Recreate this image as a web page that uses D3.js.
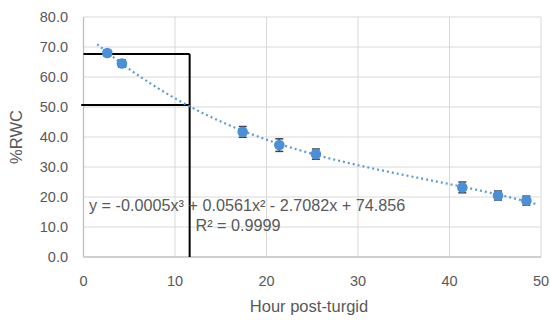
<!DOCTYPE html>
<html>
<head>
<meta charset="utf-8">
<script src="https://cdn.jsdelivr.net/npm/d3@7"></script>
<style>
  body { margin: 0; background: #fff; }
  text { font-family: "Liberation Sans", Arial, sans-serif; fill: #595959; }
</style>
</head>
<body>
<div id="chart"></div>
<script>
// Measured points (hour post-turgid vs %RWC) with error bar half-widths
const hours = [2.6, 4.2, 17.4, 21.4, 25.4, 41.4, 45.3, 48.4];
const rwc = [68.0, 64.5, 41.7, 37.3, 34.3, 23.2, 20.5, 18.8];
const errs = [1.0, 1.2, 1.8, 2.1, 1.7, 1.8, 1.5, 1.5];

// Polynomial trendline coefficients (x^3, x^2, x, constant) and its x range
const trendCoef = [-0.0005, 0.0561, -2.7082, 74.856];
const trendRange = [1.5, 49.7];
const rSquared = "0.9999";

// Black guide lines drawn on the chart
const guideLines = [
    { x1: 0, y1: 67.7, x2: 11.6, y2: 67.7 },
    { x1: -0.25, y1: 50.7, x2: 11.6, y2: 50.7 },
    { x1: 11.6, y1: 67.7, x2: 11.6, y2: 0 }
];

const xTicks = [0, 10, 20, 30, 40, 50];
const yTicks = [0, 10, 20, 30, 40, 50, 60, 70, 80];

const width = 550, height = 320;
const svg = d3.select("#chart").append("svg")
    .attr("width", width)
    .attr("height", height);

const x = d3.scaleLinear().domain([0, 50]).range([83.5, 541]);
const y = d3.scaleLinear().domain([0, 80]).range([257, 17]);

// Gridlines
svg.append("g")
    .selectAll("line")
    .data(yTicks.slice(1))
    .enter().append("line")
    .attr("x1", x(0)).attr("x2", x(50))
    .attr("y1", d => y(d)).attr("y2", d => y(d))
    .attr("stroke", "#d9d9d9").attr("stroke-width", 1);

svg.append("g")
    .selectAll("line")
    .data(xTicks.slice(1))
    .enter().append("line")
    .attr("x1", d => x(d)).attr("x2", d => x(d))
    .attr("y1", y(0)).attr("y2", y(80))
    .attr("stroke", "#d9d9d9").attr("stroke-width", 1);

// Axes lines
svg.append("line")
    .attr("x1", x(0)).attr("x2", x(50))
    .attr("y1", y(0)).attr("y2", y(0))
    .attr("stroke", "#bfbfbf").attr("stroke-width", 1.3);
svg.append("line")
    .attr("x1", x(0)).attr("x2", x(0))
    .attr("y1", y(0)).attr("y2", y(80))
    .attr("stroke", "#bfbfbf").attr("stroke-width", 1.3);

// Tick labels
svg.append("g")
    .selectAll("text")
    .data(yTicks)
    .enter().append("text")
    .attr("x", 68)
    .attr("y", d => y(d) + 5)
    .attr("text-anchor", "end")
    .style("font-size", "14.5px")
    .text(d => d3.format(".1f")(d));

svg.append("g")
    .selectAll("text")
    .data(xTicks)
    .enter().append("text")
    .attr("x", d => x(d))
    .attr("y", 286)
    .attr("text-anchor", "middle")
    .style("font-size", "14.5px")
    .text(d => d);

// Axis titles
svg.append("text")
    .attr("x", 309)
    .attr("y", 312)
    .attr("text-anchor", "middle")
    .style("font-size", "16.5px")
    .text("Hour post-turgid");

svg.append("text")
    .attr("transform", `translate(22,${y(40)}) rotate(-90)`)
    .attr("text-anchor", "middle")
    .style("font-size", "16.5px")
    .text("%RWC");

// Guide lines
svg.append("g")
    .selectAll("line")
    .data(guideLines)
    .enter().append("line")
    .attr("x1", d => x(d.x1)).attr("y1", d => y(d.y1))
    .attr("x2", d => x(d.x2)).attr("y2", d => y(d.y2))
    .attr("stroke", "#000").attr("stroke-width", 2);

// Trendline from the displayed coefficients
const poly = t => trendCoef[0] * t * t * t + trendCoef[1] * t * t + trendCoef[2] * t + trendCoef[3];
const trendData = d3.range(trendRange[0], trendRange[1] + 0.01, 0.25).map(t => [t, poly(t)]);
svg.append("path")
    .datum(trendData)
    .attr("fill", "none")
    .attr("stroke", "#5b9bd5")
    .attr("stroke-width", 2.2)
    .attr("stroke-dasharray", "2,3")
    .attr("d", d3.line().x(d => x(d[0])).y(d => y(d[1])));

// Error bars
const pts = hours.map((h, i) => ({ h, v: rwc[i], e: errs[i] }));
const eb = svg.append("g").attr("stroke", "#404040").attr("stroke-width", 1.5);
pts.forEach(d => {
    eb.append("line")
        .attr("x1", x(d.h)).attr("x2", x(d.h))
        .attr("y1", y(d.v + d.e)).attr("y2", y(d.v - d.e));
    [d.v + d.e, d.v - d.e].forEach(v => {
        eb.append("line")
            .attr("x1", x(d.h) - 4).attr("x2", x(d.h) + 4)
            .attr("y1", y(v)).attr("y2", y(v));
    });
});

// Markers
svg.append("g")
    .selectAll("circle")
    .data(pts)
    .enter().append("circle")
    .attr("cx", d => x(d.h))
    .attr("cy", d => y(d.v))
    .attr("r", 5.3)
    .attr("fill", "#4a90d9");

// Equation labels
const fmtSigned = v => (v < 0 ? "- " : "+ ") + Math.abs(v);
svg.append("text")
    .attr("x", 89)
    .attr("y", 211)
    .style("font-size", "16.2px")
    .text(`y = ${trendCoef[0]}x³ ${fmtSigned(trendCoef[1])}x² ${fmtSigned(trendCoef[2])}x ${fmtSigned(trendCoef[3])}`);

svg.append("text")
    .attr("x", 238)
    .attr("y", 231)
    .attr("text-anchor", "middle")
    .style("font-size", "16.2px")
    .text(`R² = ${rSquared}`);
</script>
</body>
</html>
